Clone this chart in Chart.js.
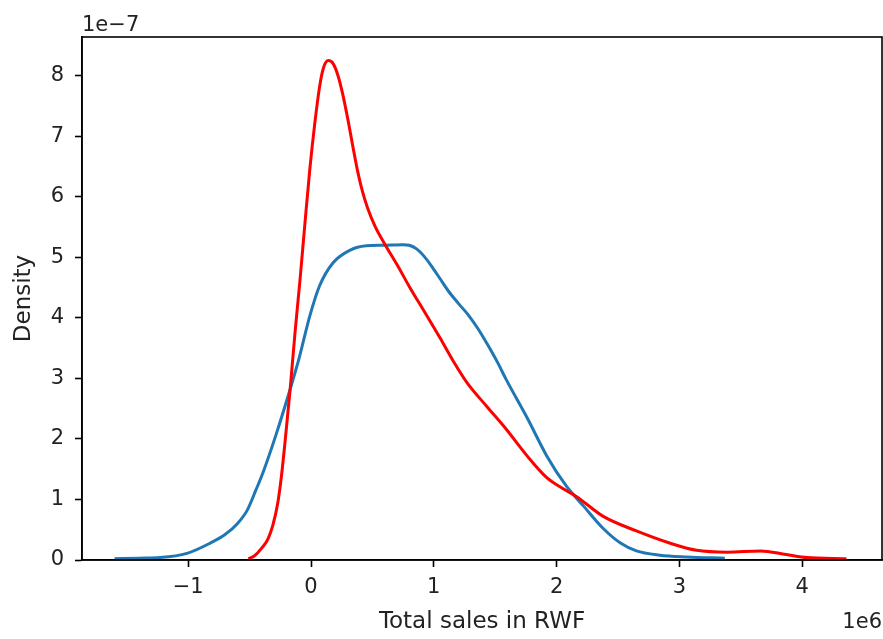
<!DOCTYPE html>
<html>
<head>
<meta charset="utf-8">
<script src="https://cdn.jsdelivr.net/npm/chart.js@4"></script>
<style>
  body { margin: 0; background: #fff; }
  #wrap { width: 883px; height: 639px; position: relative; }
</style>
</head>
<body>
<div id="wrap"><canvas id="kdeChart"></canvas></div>
<script>
// x in units of 1e6 RWF, density in units of 1e-7
const blueX = [-1.60, -1.40, -1.23, -1.01, -0.82, -0.70, -0.60, -0.52, -0.45, -0.39, -0.28, -0.17, -0.10, -0.01, 0.07, 0.18, 0.32, 0.45, 0.59, 0.75, 0.80, 0.86, 0.92, 0.98, 1.05, 1.12, 1.20, 1.28, 1.36, 1.44, 1.52, 1.59, 1.76, 1.92, 2.08, 2.22, 2.38, 2.52, 2.65, 2.84, 3.06, 3.37];
const blueY = [0.02, 0.03, 0.04, 0.11, 0.28, 0.42, 0.60, 0.82, 1.15, 1.45, 2.10, 2.82, 3.31, 4.03, 4.53, 4.91, 5.12, 5.19, 5.20, 5.21, 5.20, 5.14, 5.02, 4.86, 4.65, 4.44, 4.24, 4.05, 3.82, 3.55, 3.26, 2.98, 2.35, 1.72, 1.22, 0.89, 0.52, 0.28, 0.15, 0.08, 0.05, 0.03];

const redX = [-0.51, -0.46, -0.40, -0.35, -0.31, -0.27, -0.24, -0.21, -0.17, -0.13, -0.09, -0.05, -0.01, 0.03, 0.07, 0.10, 0.14, 0.18, 0.22, 0.26, 0.30, 0.34, 0.38, 0.42, 0.46, 0.52, 0.60, 0.70, 0.80, 0.93, 1.05, 1.16, 1.27, 1.43, 1.59, 1.76, 1.92, 2.05, 2.16, 2.38, 2.65, 2.92, 3.14, 3.39, 3.66, 3.87, 4.04, 4.36];
const redY = [0.02, 0.07, 0.20, 0.35, 0.58, 0.95, 1.40, 1.98, 2.82, 3.76, 4.62, 5.55, 6.45, 7.20, 7.82, 8.12, 8.25, 8.20, 8.00, 7.68, 7.28, 6.84, 6.42, 6.08, 5.82, 5.52, 5.22, 4.88, 4.52, 4.08, 3.67, 3.28, 2.93, 2.54, 2.16, 1.72, 1.36, 1.18, 1.05, 0.72, 0.48, 0.28, 0.16, 0.13, 0.15, 0.09, 0.04, 0.02];

const xTicks = [-1, 0, 1, 2, 3, 4];
const yTicks = [0, 1, 2, 3, 4, 5, 6, 7, 8];

const TICK_FONT = { family: 'DejaVu Sans', size: 21 };
const LABEL_FONT = { family: 'DejaVu Sans', size: 23 };
const TEXT = '#222';

function toPoints(xs, ys) {
    return xs.map((x, i) => ({ x: x, y: ys[i] }));
}

// box around the plot and the matplotlib offset labels
const framePlugin = {
    id: 'frame',
    afterDatasetsDraw(chart) {
        const { ctx, chartArea: a } = chart;
        ctx.save();
        ctx.strokeStyle = '#000';
        ctx.lineWidth = 1.6;
        ctx.strokeRect(a.left, a.top, a.right - a.left, a.bottom - a.top);
        ctx.fillStyle = TEXT;
        ctx.font = TICK_FONT.size + 'px "DejaVu Sans"';
        ctx.textBaseline = 'alphabetic';
        ctx.textAlign = 'left';
        ctx.fillText('1e\u22127', a.left, 31);
        ctx.textAlign = 'right';
        ctx.fillText('1e6', a.right, 628);
        ctx.restore();
    }
};

new Chart(document.getElementById('kdeChart'), {
    type: 'line',
    data: {
        datasets: [{
            label: 'blue',
            data: toPoints(blueX, blueY),
            borderColor: '#1f77b4',
            order: 1
        }, {
            label: 'red',
            data: toPoints(redX, redY),
            borderColor: '#ff0000',
            order: 0
        }]
    },
    options: {
        responsive: true,
        maintainAspectRatio: false,
        animation: false,
        parsing: false,
        layout: { padding: { top: 37, right: 1, left: 0, bottom: 0 } },
        elements: {
            line: { borderWidth: 3, cubicInterpolationMode: 'monotone', fill: false },
            point: { radius: 0 }
        },
        plugins: {
            legend: { display: false },
            tooltip: { enabled: false }
        },
        scales: {
            x: {
                type: 'linear',
                min: -1.865,
                max: 4.65,
                afterBuildTicks: s => { s.ticks = xTicks.map(v => ({ value: v })); },
                afterFit: s => { s.height = 79; },
                ticks: {
                    font: TICK_FONT, color: TEXT, padding: 8,
                    callback: v => (v < 0 ? '\u2212' + Math.abs(v) : String(v))
                },
                grid: { drawOnChartArea: false, tickLength: 7, color: '#000', tickWidth: 1.6 },
                border: { display: true, color: '#000', width: 1.6 },
                title: { display: true, text: 'Total sales in RWF', font: LABEL_FONT, color: TEXT, padding: { bottom: 3 } }
            },
            y: {
                type: 'linear',
                min: 0,
                max: 8.64,
                afterBuildTicks: s => { s.ticks = yTicks.map(v => ({ value: v })); },
                afterFit: s => { s.width = 82; },
                ticks: { font: TICK_FONT, color: TEXT, padding: 11 },
                grid: { drawOnChartArea: false, tickLength: 7, color: '#000', tickWidth: 1.6 },
                border: { display: true, color: '#000', width: 1.6 },
                title: { display: true, text: 'Density', font: LABEL_FONT, color: TEXT, padding: { top: 10 } }
            }
        }
    },
    plugins: [framePlugin]
});
</script>
</body>
</html>
